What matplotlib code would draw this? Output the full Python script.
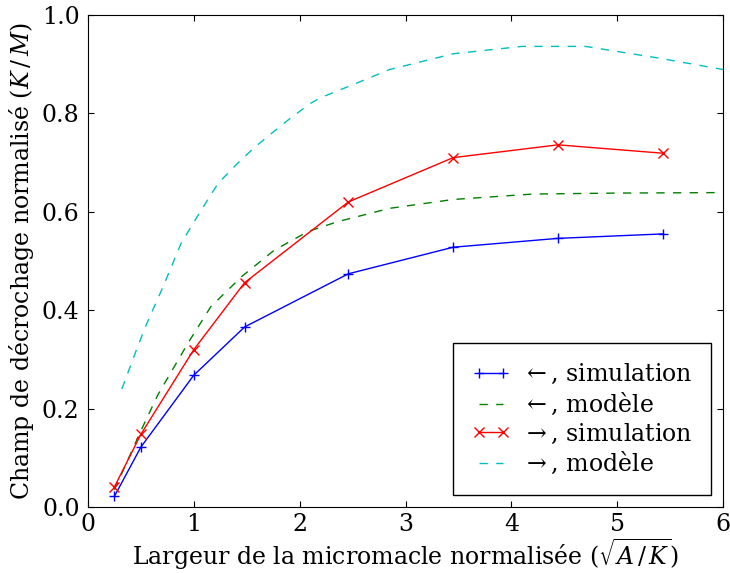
import numpy as np
import matplotlib
matplotlib.use("Agg")
from matplotlib import pyplot as plt

# simulation points
x_sim = [0.25, 0.5, 1.0, 1.48, 2.46, 3.45, 4.44, 5.43]
gauche_sim = [0.022, 0.122, 0.268, 0.366, 0.474, 0.528, 0.546, 0.555]
droite_sim = [0.041, 0.148, 0.32, 0.456, 0.62, 0.71, 0.736, 0.719]

# model curves
x_mod_g = [0.25, 0.5, 0.66, 0.95, 1.16, 1.45, 1.76, 2.08, 2.36, 2.85, 3.45, 4.2, 5.0, 6.0]
gauche_mod = [0.035, 0.155, 0.228, 0.335, 0.407, 0.468, 0.522, 0.56, 0.58, 0.607, 0.625, 0.636, 0.638, 0.639]
x_mod_d = [0.32, 0.45, 0.55, 0.71, 0.88, 1.06, 1.23, 1.43, 1.58, 1.75, 1.9, 2.1, 2.2, 2.5, 2.85, 3.45, 4.1, 4.7, 5.4, 6.0]
droite_mod = [0.24, 0.315, 0.37, 0.448, 0.536, 0.6, 0.658, 0.702, 0.732, 0.762, 0.788, 0.82, 0.832, 0.858, 0.889, 0.921, 0.936, 0.936, 0.912, 0.889]

plt.rcParams['font.family'] = 'DejaVu Serif'
plt.rcParams['mathtext.fontset'] = 'dejavuserif'
plt.rcParams['font.size'] = 17

fig = plt.figure(figsize=(7.3, 5.73), dpi=100)
ax = fig.add_axes([0.1205, 0.115, 0.87, 0.859])

dash = (0, (6, 6))
ax.plot(x_sim, gauche_sim, 'b-', lw=1, marker='+', ms=7, mew=1, label=r'$\leftarrow$, simulation')
ax.plot(x_mod_g, gauche_mod, color='g', lw=1, ls=dash, label=r'$\leftarrow$, modèle')
ax.plot(x_sim, droite_sim, 'r-', lw=1, marker='x', ms=7, mew=1, label=r'$\rightarrow$, simulation')
ax.plot(x_mod_d, droite_mod, color='c', lw=1, ls=dash, label=r'$\rightarrow$, modèle')

ax.set_xlim(0, 6)
ax.set_ylim(0, 1.0)
ax.set_xticks(range(7))
ax.set_yticks(np.arange(0, 1.01, 0.2))
ax.set_yticklabels(['0.0', '0.2', '0.4', '0.6', '0.8', '1.0'])
ax.tick_params(direction='in', top=True, right=True, length=4, pad=6)
ax.tick_params(axis='x', pad=4)
ax.set_xlabel(r'Largeur de la micromacle normalisée ($\sqrt{A\,/\,K}$)', labelpad=1)
ax.set_ylabel(r'Champ de décrochage normalisé ($K\,/\,M$)', labelpad=4)

leg = ax.legend(loc='lower right', fancybox=False, framealpha=1, edgecolor='black',
                numpoints=2, handlelength=1.6, handletextpad=0.5,
                borderpad=0.8, labelspacing=0.2, borderaxespad=0.5)
leg.get_frame().set_linewidth(1)

plt.savefig("out.png", dpi=100)
